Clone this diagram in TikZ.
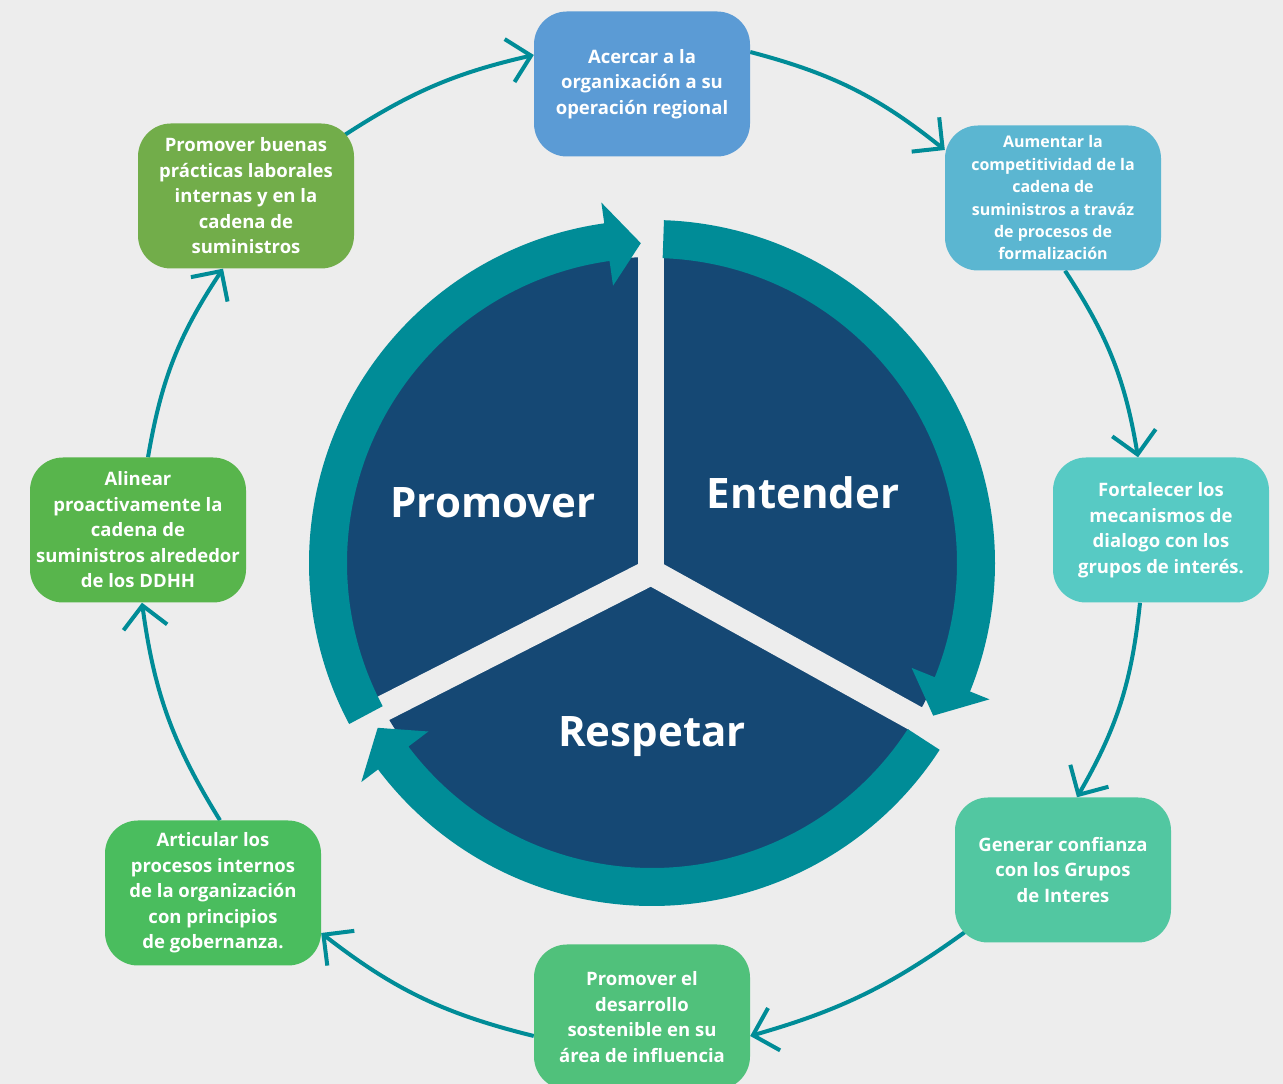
\documentclass[tikz,border=0pt]{standalone}
\usepackage{fontspec}
\setmainfont{Open Sans}
\usetikzlibrary{arrows.meta}

\definecolor{bgcol}{HTML}{EDEDED}
\definecolor{coreblue}{HTML}{154874}
\definecolor{ringcol}{HTML}{008C97}
\definecolor{goal1}{HTML}{5B9BD5}
\definecolor{goal2}{HTML}{5BB6D1}
\definecolor{goal3}{HTML}{57CAC4}
\definecolor{goal4}{HTML}{52C7A1}
\definecolor{goal5}{HTML}{50C17B}
\definecolor{goal6}{HTML}{4ABD5E}
\definecolor{goal7}{HTML}{58B54C}
\definecolor{goal8}{HTML}{72AD4A}

\pgfdeclarelayer{back}
\pgfsetlayers{back,main}

\begin{document}
\begin{tikzpicture}[
	x=1pt, y=1pt,
	goal/.style={ rounded corners=33pt, minimum width=216pt, minimum height=145pt, inner sep=0pt, text=white, align=center, font=\bfseries\fontsize{18.5}{25.5}\selectfont },
	link/.style={ draw=ringcol, line width=4pt, -{Straight Barb[length=22pt,width=44pt]} },
	gap/.style={ draw=bgcol, line width=26pt },
	stage/.style={ text=white, anchor=base, font=\bfseries\fontsize{42}{42}\selectfont }
]
\useasboundingbox (0,0) rectangle (1283,1084);
\begin{pgfonlayer}{back}
	\fill[bgcol] (0,0) rectangle (1283,1084);
\end{pgfonlayer}

% core
\coordinate (hub) at (652,521);
\coordinate (junction) at (651,512);
\fill[coreblue] (hub) circle (306);
\foreach \a in {90,-29,207} \draw[gap] (junction) -- ++(\a:340);

\begin{scope}[shift={(hub)}]
\foreach \sa/\ea/\ta in {208/98/92, 88/-22/-28.5, -33/-143/-149} {
	\fill[ringcol] (\sa:343) arc[start angle=\sa, end angle=\ea, radius=343] -- (\ea:364) -- (\ta:320) -- (\ea:280) -- (\ea:305) arc[start angle=\ea, end angle=\sa, radius=305] -- cycle;
}
\end{scope}

\node[stage] (promover) at (493,566) {Promover};
\node[stage] (entender) at (803,575) {Entender};
\node[stage] (respetar) at (652,337) {Respetar};

% goals
\node[goal, fill=goal1] (acercar) at (642,1000) {Acercar a la\\organixación a su\\operación regional};
\node[goal, fill=goal2, font=\bfseries\fontsize{16}{22.4}\selectfont] (aumentar) at (1053,886) {Aumentar la\\competitividad de la\\cadena de\\suministros a traváz\\de procesos de\\formalización};
\node[goal, fill=goal3] (fortalecer) at (1161,554) {Fortalecer los\\mecanismos de\\dialogo con los\\grupos de interés.};
\node[goal, fill=goal4] (generar) at (1063,214) {Generar confianza\\con los Grupos\\de Interes};
\node[goal, fill=goal5] (desarrollo) at (642,67) {Promover el\\desarrollo\\sostenible en su\\área de influencia};
\node[goal, fill=goal6] (articular) at (213,191) {Articular los\\procesos internos\\de la organización\\con principios\\de gobernanza.};
\node[goal, fill=goal7] (alinear) at (138,554) {Alinear\\proactivamente la\\cadena de\\suministros alrededor\\de los DDHH};
\node[goal, fill=goal8] (buenas) at (246,888) {Promover buenas\\prácticas laborales\\internas y en la\\cadena de\\suministros};

\begin{pgfonlayer}{back}
	\draw[link] ([shift={(-10,-12)}]buenas.north east) to[bend left=10] ([yshift=29]acercar.west);
	\draw[link] ([yshift=32]acercar.east) to[bend left=12] ([yshift=48]aumentar.west);
	\draw[link] ([xshift=12]aumentar.south) to[bend left=12] ([xshift=-23]fortalecer.north);
	\draw[link] ([xshift=-21]fortalecer.south) to[bend left=12] ([xshift=14]generar.north);
	\draw[link] ([shift={(12,12)}]generar.south west) to[bend left=10] ([yshift=-19]desarrollo.east);
	\draw[link] ([yshift=-19]desarrollo.west) to[bend left=12] ([yshift=-40]articular.east);
	\draw[link] ([xshift=7]articular.north) to[bend left=12] ([xshift=4]alinear.south);
	\draw[link] ([xshift=10]alinear.north) to[bend left=12] ([xshift=-23]buenas.south);
\end{pgfonlayer}

\end{tikzpicture}
\end{document}
